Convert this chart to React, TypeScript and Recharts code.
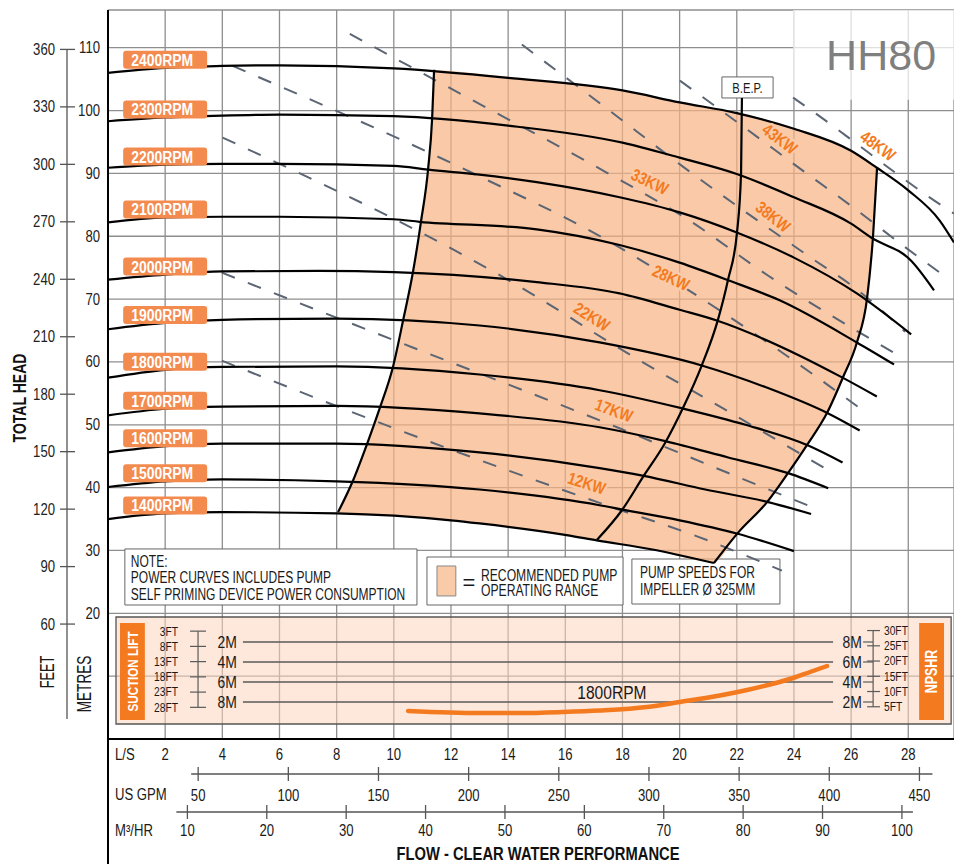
import React from 'react';
import {
  ComposedChart, XAxis, YAxis, CartesianGrid, Line, Area, Scatter,
  ReferenceArea, ReferenceLine,
} from 'recharts';

// ---------- fonts ----------
const SANS = "'Liberation Sans', Arial, Helvetica, sans-serif";

// ---------- axis ranges / conversions ----------
const FLOW_MAX = 29.6;          // L/S at right edge
const HEAD_MAX = 116;           // metres at top edge
const FT_PER_M = 1 / 0.3048;
const GPM_PER_LS = 15.8503;
const M3H_PER_LS = 3.6;
const GPM_MAX = FLOW_MAX * GPM_PER_LS;
const M3H_MAX = FLOW_MAX * M3H_PER_LS;
const FT_MAX = HEAD_MAX * FT_PER_M;
const NPSH_DOMAIN: [number, number] = [-1.7, 71.2];

// ---------- ticks ----------
const flowTicks = [2, 4, 6, 8, 10, 12, 14, 16, 18, 20, 22, 24, 26, 28];
const gpmTicks = [50, 100, 150, 200, 250, 300, 350, 400, 450];
const m3hTicks = [10, 20, 30, 40, 50, 60, 70, 80, 90, 100];
const headTicksM = [10, 20, 30, 40, 50, 60, 70, 80, 90, 100, 110];
const headTicksFt = [60, 90, 120, 150, 180, 210, 240, 270, 300, 330, 360];

// ---------- pump curves: [flow L/S, head m] ----------
const rpm2400 = [[0, 106.0], [2, 106.8], [4, 107.1], [6, 107.2], [10, 106.7], [14, 105.2], [18, 103.2], [20, 101.3], [22, 99.6], [24, 97.1], [26, 93.6], [26.9, 90.9], [28, 87.3], [29.1, 82.5], [29.6, 79.0]];
const rpm2300 = [[0, 98.3], [2, 98.9], [4, 99.2], [6, 99.35], [10, 99.1], [14, 97.6], [18, 94.9], [20, 92.5], [22, 89.9], [24, 86.2], [26, 82.0], [26.7, 79.8], [28.1, 76.1], [28.9, 71.4]];
const rpm2200 = [[0, 90.9], [2, 91.4], [4, 91.5], [6, 91.5], [10, 91.2], [11.2, 90.6], [13, 89.8], [15, 88.6], [17.9, 86.2], [20, 83.8], [22, 80.6], [24, 76.6], [26.2, 70.9], [28.1, 64.4]];
const rpm2100 = [[0, 82.2], [2, 83.0], [4, 83.1], [6, 83.1], [10, 82.7], [10.9, 82.3], [15, 81.1], [17.9, 78.6], [20, 75.8], [21.7, 73.0], [23.5, 69.8], [26.2, 63.1], [27.5, 59.6]];
const rpm2000 = [[0, 73.1], [2, 73.9], [4, 74.4], [7.4, 74.5], [10, 74.3], [15, 72.7], [17.9, 70.9], [20, 68.3], [21.3, 66.6], [24.2, 61.0], [25.7, 57.5], [26.9, 54.5]];
const rpm1900 = [[0, 65.2], [2, 66.2], [4, 66.7], [8, 66.9], [13, 65.8], [17.2, 63.1], [20.8, 59.4], [23, 56.0], [25.2, 51.8], [26.3, 49.1]];
const rpm1800 = [[0, 57.5], [2, 58.75], [4, 59.2], [8, 59.3], [13, 58.0], [17.2, 55.5], [20.1, 52.6], [22.3, 50.0], [24.5, 46.7], [25.7, 44.0]];
const rpm1700 = [[0, 51.5], [2, 52.55], [4, 52.9], [8, 53.0], [13, 51.8], [17.2, 49.6], [19.5, 47.4], [21.7, 44.8], [23.8, 42.3], [25.2, 39.9]];
const rpm1600 = [[0, 45.6], [2, 46.6], [4, 47.0], [8, 47.0], [13, 45.6], [17.2, 43.1], [18.7, 41.9], [20.9, 39.7], [23.1, 37.7], [24.6, 35.8]];
const rpm1500 = [[0, 40.1], [2, 41.0], [4, 41.3], [8, 41.0], [13, 39.7], [17.2, 37.2], [18, 36.5], [20, 34.8], [22, 32.7], [24, 29.9]];
const rpm1400 = [[0, 35.0], [2, 35.9], [4, 36.1], [8, 35.9], [12, 34.8], [13, 34.3], [16.1, 32.4], [17.1, 31.6], [19, 30.2], [21.2, 28.0]];
const rpmNames = ['2400RPM', '2300RPM', '2200RPM', '2100RPM', '2000RPM', '1900RPM', '1800RPM', '1700RPM', '1600RPM', '1500RPM', '1400RPM'];

// ---------- power curves (kW): [flow L/S, head m] ----------
const kw48 = [[23.97, 102.05], [25.26, 97.9], [26.14, 94.9], [27.82, 89.2], [28.76, 86.15], [29.6, 83.6]];
const kw43 = [[20.01, 104.75], [22.18, 97.6], [24.32, 90.4], [26.07, 84.6], [27.82, 78.5], [29.11, 74.2]];
const kw38 = [[14.48, 110.5], [17.46, 100.3], [20.08, 91.2], [24.49, 76.9], [26.24, 71.4], [27.89, 64.8]];
const kw33 = [[8.46, 112.2], [12.73, 101.7], [17.46, 90.1], [20.29, 82.65], [23.09, 73.75], [27.54, 61.35]];
const kw28 = [[4.36, 107.1], [12.73, 90.1], [17.49, 79.3], [20.71, 70.25], [22.88, 63.7], [26.56, 51.8]];
const kw22 = [[4.01, 95.7], [15.04, 70.25], [17.84, 62.3], [21.52, 52.6], [25.26, 42.6]];
const kw17 = [[3.98, 74.2], [10.66, 62.3], [17.81, 49.6], [21.66, 42.4], [24.74, 36.7]];
const kw12 = [[3.98, 60.2], [10.21, 49.1], [17.56, 37.0], [20.61, 32.25], [23.58, 26.8]];
const kwLabels = ['48KW', '43KW', '38KW', '33KW', '28KW', '22KW', '17KW', '12KW'];
const kwLabelFlow = [26.94, 23.51, 23.27, 18.96, 19.7, 16.93, 17.7, 16.75];
const kwLabelHead = [94.4, 95.5, 83.1, 88.7, 73.4, 67.2, 52.3, 40.7];
const kwLabelAngle = [36, 37, 38, 25, 25, 32, 20, 18];

// ---------- operating range limits ----------
const leftLimit = [[8.05, 36.1], [8.57, 41.1], [9.06, 46.9], [9.52, 52.8], [9.97, 59.2], [10.32, 66.5], [10.67, 74.3], [10.95, 82.3], [11.2, 90.7], [11.34, 98.7], [11.41, 106.5]];
const bepLine = [[17.11, 31.7], [17.98, 36.4], [18.72, 41.7], [19.49, 47.1], [20.12, 52.7], [20.78, 59.5], [21.34, 66.7], [21.69, 73.0], [22.01, 80.7], [22.15, 90.1], [22.18, 102.0]];
const rightLimit = [[21.2, 28.0], [22.04, 32.8], [23.06, 37.7], [23.79, 42.3], [24.46, 46.8], [25.16, 51.9], [25.72, 57.6], [26.21, 63.2], [26.56, 70.2], [26.77, 80.2], [26.91, 91.0]];
const rangeFlow = [8.05, 8.57, 9.06, 9.52, 9.97, 10.32, 10.67, 10.95, 11.2, 11.34, 11.41, 13.02, 15.01, 17.21, 18.96, 21.2, 22.04, 23.06, 23.79, 24.46, 25.16, 25.72, 26.21, 26.56, 26.77, 26.91];
const rangeLow = [35.96, 35.88, 35.81, 35.65, 35.49, 35.41, 35.33, 35.25, 35.17, 35.09, 35.09, 34.37, 33.18, 31.67, 30.24, 28.17, 32.78, 37.71, 42.33, 46.79, 51.88, 57.61, 63.18, 70.18, 80.2, 91.02];
const rangeHigh = [36.12, 41.06, 46.94, 52.83, 59.2, 66.52, 74.32, 82.27, 90.71, 98.66, 106.46, 105.82, 104.87, 103.75, 102.32, 100.41, 99.7, 98.5, 97.55, 96.59, 95.32, 94.21, 93.09, 92.14, 91.5, 91.02];

// ---------- NPSHR @1800RPM ----------
const npshFlow = [10.5, 13.02, 14.42, 15.92, 17.21, 18.86, 20.01, 21.41, 22.36, 23.16, 23.97, 24.56, 25.16];
const npshReq = [1.1, 0.9, 0.9, 1.0, 1.15, 1.5, 2.0, 2.65, 3.2, 3.75, 4.4, 5.0, 5.6];
const npshGridM = [2, 4, 6, 8];
const suctionLiftM = [2, 4, 6, 8];
const suctionLiftFt = [3, 8, 13, 18, 23, 28];
const npshrFt = [5, 10, 15, 20, 25, 30];

// ---------- layout ----------
const CHART_W = 954, CHART_H = 864, TOP = 10;
const LS_AXIS_H = 35, GPM_AXIS_H = 38, M3H_AXIS_H = 52;
const BOTTOM_H = LS_AXIS_H + GPM_AXIS_H + M3H_AXIS_H;
const PLOT_H = CHART_H - TOP - BOTTOM_H;
const PX_PER_FT = PLOT_H / FT_MAX;
const PEACH = '#f7b283';
const ORANGE = '#f47a20';
const DASH = '#5b6573';
const INK = '#1a1a1a';

const toXY = (pts: number[][]) => pts.map(([x, y]) => ({ x, y }));
const pumpCurves = [rpm2400, rpm2300, rpm2200, rpm2100, rpm2000, rpm1900, rpm1800, rpm1700, rpm1600, rpm1500, rpm1400];
const powerCurves = [kw48, kw43, kw38, kw33, kw28, kw22, kw17, kw12];
const rangeData = rangeFlow.map((x, i) => ({ x, range: [rangeLow[i], rangeHigh[i]] }));
const npshData = npshFlow.map((x, i) => ({ x, y: npshReq[i] }));
const kwLabelData = kwLabels.map((t, i) => ({ x: kwLabelFlow[i], y: kwLabelHead[i], text: t, angle: kwLabelAngle[i] }));
const gpmSpan = [{ x: 0, y: 0 }, { x: GPM_MAX, y: 0 }];
const m3hSpan = [{ x: 0, y: 0 }, { x: M3H_MAX, y: 0 }];

// ---------- condensed text helper (Arial metrics squeezed horizontally) ----------
type TProps = {
  x: number; y: number; sx?: number; rotate?: number; anchor?: 'start' | 'middle' | 'end';
  size: number; weight?: string | number; fill?: string; baseline?: string; halo?: string; children: React.ReactNode;
};
const T = ({ x, y, sx = 0.82, rotate = 0, anchor = 'start', size, weight = 'normal', fill = INK, baseline, halo, children }: TProps) => (
  <text x={0} y={0} transform={`translate(${x} ${y}) rotate(${rotate}) scale(${sx} 1)`} textAnchor={anchor}
    dominantBaseline={baseline as any} fontFamily={SANS} fontSize={size} fontWeight={weight} fill={fill}
    stroke={halo} strokeWidth={halo ? 5 : undefined} paintOrder={halo ? 'stroke' : undefined} strokeLinejoin="round">
    {children}
  </text>
);

// ---------- ticks renderers ----------
const MetreTick = (p: any) => {
  const v = p.payload.value;
  if (v < 20) return <g />;
  return <T x={p.x} y={p.y + 5.5} anchor="end" size={16} fill="#222">{v}</T>;
};
const FeetTick = (p: any) => {
  const v = p.payload.value;
  const ax = p.x + 12;
  const y = p.y;
  return (
    <g>
      {v < 360 && <line x1={ax} x2={ax} y1={y} y2={y - 30 * PX_PER_FT} stroke="#555" strokeWidth={1.3} />}
      {v === 60 && <line x1={ax} x2={ax} y1={y} y2={y + 95} stroke="#555" strokeWidth={1.3} />}
      <line x1={ax - 7} x2={ax + 8} y1={y} y2={y} stroke="#555" strokeWidth={1.3} />
      <T x={p.x} y={y + 5.5} anchor="end" size={16} fill="#222">{v}</T>
    </g>
  );
};
const LsTick = (p: any) => (
  <T x={p.x} y={p.y + 21} anchor="middle" size={16}>{p.payload.value}</T>
);
const scaleTick = (baseline: number) => (p: any) => (
  <g>
    <line x1={p.x} x2={p.x} y1={p.y - 7} y2={p.y + 7} stroke="#555" strokeWidth={1.3} />
    <T x={p.x} y={p.y + baseline} anchor="middle" size={16}>{p.payload.value}</T>
  </g>
);

// ---------- axis decorations ----------
const lsAxisDecor = (p: any) => {
  const vb = p.viewBox;
  return (
    <g>
      <line x1={vb.x} x2={vb.x} y1={vb.y} y2={vb.y + BOTTOM_H} stroke="#000" strokeWidth={2} />
      <T x={vb.x + 7} y={vb.y + 21} size={16}>L/S</T>
    </g>
  );
};
const gpmAxisDecor = (p: any) => {
  const vb = p.viewBox;
  const px = (v: number) => vb.x + (v / GPM_MAX) * vb.width;
  return (
    <g>
      <line x1={px(gpmTicks[0]) - 7} x2={px(gpmTicks[gpmTicks.length - 1]) + 13} y1={vb.y} y2={vb.y} stroke="#555" strokeWidth={1.3} />
      <T x={vb.x + 7} y={vb.y + 26} size={16}>US GPM</T>
    </g>
  );
};
const m3hAxisDecor = (p: any) => {
  const vb = p.viewBox;
  const px = (v: number) => vb.x + (v / M3H_MAX) * vb.width;
  return (
    <g>
      <line x1={px(m3hTicks[0]) - 11} x2={px(m3hTicks[m3hTicks.length - 1]) + 11} y1={vb.y} y2={vb.y} stroke="#555" strokeWidth={1.3} />
      <T x={vb.x + 7} y={vb.y + 24} size={16}>M³/HR</T>
      <T x={vb.x + 430} y={vb.y + 48} anchor="middle" size={18} weight="bold" fill="#111">FLOW - CLEAR WATER PERFORMANCE</T>
    </g>
  );
};
const feetAxisDecor = (p: any) => {
  const vb = p.viewBox;
  return (
    <g>
      <T x={vb.x + 19} y={vb.y + 388} rotate={-90} sx={0.78} anchor="middle" baseline="central" size={18} weight="bold" fill="#111">TOTAL HEAD</T>
      <T x={vb.x + 47} y={vb.y + 662} rotate={-90} sx={0.64} anchor="middle" baseline="central" size={20}>FEET</T>
    </g>
  );
};
const metreAxisDecor = (p: any) => {
  const vb = p.viewBox;
  return <T x={vb.x + 18} y={vb.y + 674} rotate={-90} sx={0.68} anchor="middle" baseline="central" size={20}>METRES</T>;
};

// ---------- annotation boxes ----------
const boxText = (lines: string[], dx: number, first: number, gap: number) => (p: any) => {
  const vb = p.viewBox;
  return (
    <g>
      {lines.map((t, i) => (
        <T key={i} x={vb.x + dx} y={vb.y + first + i * gap} sx={0.75} size={16}>{t}</T>
      ))}
    </g>
  );
};
const legendText = (p: any) => {
  const vb = p.viewBox;
  return (
    <g>
      <T x={vb.x + 42} y={vb.y + 33} sx={1} anchor="middle" size={22}>=</T>
      <T x={vb.x + 54} y={vb.y + 24} sx={0.76} size={16}>RECOMMENDED PUMP</T>
      <T x={vb.x + 54} y={vb.y + 39} sx={0.76} size={16}>OPERATING RANGE</T>
    </g>
  );
};
const bepText = (p: any) => {
  const vb = p.viewBox;
  return <T x={vb.x + vb.width / 2} y={vb.y + 16} anchor="middle" sx={0.8} size={14}>B.E.P.</T>;
};
const hhText = (p: any) => {
  const vb = p.viewBox;
  return <T x={vb.x + 88} y={vb.y + 60} anchor="middle" sx={1} size={43} fill="#7f7f7f">HH80</T>;
};
const verticalBoxText = (t: string, size: number, sx: number) => (p: any) => {
  const vb = p.viewBox;
  const cx = vb.x + vb.width / 2, cy = vb.y + vb.height / 2;
  return <T x={cx} y={cy} rotate={-90} sx={sx} anchor="middle" baseline="central" size={size} weight="bold" fill="#fff">{t}</T>;
};

// ---------- series labels ----------
const rpmLabel = (name: string) => (p: any) => {
  if (p.index !== 1) return null;
  const vb = p.viewBox || {};
  const x = Number.isFinite(p.x) ? p.x : vb.x;
  const y = (Number.isFinite(p.y) ? p.y : vb.y) - 8;
  return (
    <g>
      <rect x={x - 42} y={y - 9} width={84} height={18} rx={3} fill="#f38b4f" />
      <T x={x - 34} y={y + 6} size={17} weight="bold" fill="#fff">{name}</T>
    </g>
  );
};
const kwShape = (p: any) => {
  const d = p.payload;
  return (
    <T x={p.cx} y={p.cy} rotate={d.angle} anchor="middle" baseline="central" size={17} weight="bold" fill={ORANGE}
      halo={d.text === '48KW' ? '#ffffff' : '#f9cba9'}>{d.text}</T>
  );
};
const textShape = (anchor: 'start' | 'middle' | 'end', size: number) => (p: any) => (
  <T x={p.cx} y={p.cy} anchor={anchor} baseline="central" size={size}>{p.payload.text}</T>
);

// npsh panel text data
const suctionLabelData = suctionLiftM.map((m) => ({ x: 4.51, y: 10 - m, text: `${m}M` }));
const npshrLabelData = npshGridM.map((m) => ({ x: 26.38, y: m, text: `${m}M` }));
const suctionFtData = suctionLiftFt.map((f) => ({ x: 2.45, y: 10 - f / FT_PER_M, text: `${f}FT` }));
const npshrFtData = npshrFt.map((f) => ({ x: 27.15, y: f / FT_PER_M, text: `${f}FT` }));
const curveNameData = [{ x: 17.63, y: 3.0, text: '1800RPM' }];

export default function App() {
  return (
    <div style={{ position: 'absolute', left: 0, top: 0, width: CHART_W, height: CHART_H, background: '#fff' }}>
      <ComposedChart width={CHART_W} height={CHART_H} margin={{ top: TOP, right: 0, bottom: 0, left: 0 }}>
        <CartesianGrid stroke="#8e8e8e" strokeWidth={1.3} />
        <XAxis dataKey="x" type="number" domain={[0, FLOW_MAX]} ticks={flowTicks} interval={0} allowDataOverflow
          height={LS_AXIS_H} axisLine={{ stroke: '#000', strokeWidth: 2 }} tickLine={false} tickSize={0} tickMargin={0}
          tick={LsTick} label={lsAxisDecor} />
        <XAxis xAxisId="gpm" dataKey="x" type="number" domain={[0, GPM_MAX]} ticks={gpmTicks} interval={0} allowDataOverflow
          height={GPM_AXIS_H} axisLine={false} tickLine={false} tickSize={0} tickMargin={0}
          tick={scaleTick(27)} label={gpmAxisDecor} />
        <XAxis xAxisId="m3h" dataKey="x" type="number" domain={[0, M3H_MAX]} ticks={m3hTicks} interval={0} allowDataOverflow
          height={M3H_AXIS_H} axisLine={false} tickLine={false} tickSize={0} tickMargin={0}
          tick={scaleTick(24)} label={m3hAxisDecor} />
        <YAxis type="number" domain={[0, HEAD_MAX]} ticks={headTicksM} interval={0} allowDataOverflow width={41}
          axisLine={{ stroke: '#000', strokeWidth: 2 }} tickLine={false} tickSize={6} tickMargin={2}
          tick={MetreTick} label={metreAxisDecor} />
        <YAxis yAxisId="ft" type="number" domain={[0, FT_MAX]} ticks={headTicksFt} interval={0} allowDataOverflow width={67}
          axisLine={false} tickLine={false} tickSize={7} tickMargin={5} tick={FeetTick} label={feetAxisDecor} />
        <YAxis yAxisId="npsh" type="number" domain={NPSH_DOMAIN} allowDataOverflow hide />

        {/* invisible spans so the secondary flow scales are populated */}
        <Line xAxisId="gpm" data={gpmSpan} dataKey="y" stroke="none" dot={false} isAnimationActive={false} />
        <Line xAxisId="m3h" data={m3hSpan} dataKey="y" stroke="none" dot={false} isAnimationActive={false} />

        {/* backgrounds & annotation boxes */}
        <ReferenceArea x1={23.97} x2={FLOW_MAX} y1={101.7} y2={HEAD_MAX} fill="#fff" fillOpacity={0.72} stroke="none" label={hhText} />
        <ReferenceArea x1={0.28} x2={29.5} y1={2.39} y2={19.41} fill="#fbd5bd" fillOpacity={0.55} stroke="#555" strokeWidth={1.3} />
        <ReferenceArea x1={0.42} x2={1.29} y1={3.02} y2={18.46} fill={ORANGE} fillOpacity={1} stroke="none" label={verticalBoxText('SUCTION LIFT', 15.5, 0.75)} />
        <ReferenceArea x1={28.38} x2={29.25} y1={3.02} y2={18.46} fill={ORANGE} fillOpacity={1} stroke="none" label={verticalBoxText('NPSHR', 16, 0.78)} />
        <ReferenceArea x1={0.59} x2={10.81} y1={21.32} y2={30.24} fill="#fff" fillOpacity={1} stroke="#666" strokeWidth={1}
          label={boxText(['NOTE:', 'POWER CURVES INCLUDES PUMP', 'SELF PRIMING DEVICE POWER CONSUMPTION'], 6, 18, 16.5)} />
        <ReferenceArea x1={11.16} x2={18.02} y1={21.32} y2={28.96} fill="#fff" fillOpacity={1} stroke="#666" strokeWidth={1} label={legendText} />
        <ReferenceArea x1={11.51} x2={12.17} y1={22.76} y2={27.53} fill="#f9cba9" fillOpacity={1} stroke="#888" strokeWidth={1} />
        <ReferenceArea x1={18.33} x2={23.51} y1={21.48} y2={28.64} fill="#fff" fillOpacity={1} stroke="#666" strokeWidth={1}
          label={boxText(['PUMP SPEEDS FOR', 'IMPELLER Ø 325MM'], 8, 19, 17)} />
        <ReferenceArea x1={21.48} x2={23.27} y1={102.0} y2={105.35} fill="#fff" fillOpacity={1} stroke="#666" strokeWidth={1} label={bepText} />

        {/* recommended operating range */}
        <Area data={rangeData} dataKey="range" type="monotone" fill={PEACH} fillOpacity={0.7} stroke="none" isAnimationActive={false} />

        {/* power curves */}
        {powerCurves.map((pts, i) => (
          <Line key={`kw${i}`} data={toXY(pts)} dataKey="y" type="monotone" stroke={DASH} strokeWidth={2}
            strokeDasharray="14 14" dot={false} isAnimationActive={false} />
        ))}

        {/* pump speed curves */}
        {pumpCurves.map((pts, i) => (
          <Line key={`rpm${i}`} data={toXY(pts)} dataKey="y" type="monotone" stroke="#000" strokeWidth={2.2}
            dot={false} isAnimationActive={false} label={rpmLabel(rpmNames[i])} />
        ))}

        {/* limits */}
        <Line data={toXY(leftLimit)} dataKey="y" type="monotone" stroke="#000" strokeWidth={2.2} dot={false} isAnimationActive={false} />
        <Line data={toXY(bepLine)} dataKey="y" type="monotone" stroke="#000" strokeWidth={2.2} dot={false} isAnimationActive={false} />
        <Line data={toXY(rightLimit)} dataKey="y" type="monotone" stroke="#000" strokeWidth={2.2} dot={false} isAnimationActive={false} />

        <Scatter data={kwLabelData} dataKey="y" shape={kwShape} isAnimationActive={false} />

        {/* NPSH panel */}
        {npshGridM.map((m) => (
          <ReferenceLine key={`g${m}`} yAxisId="npsh" segment={[{ x: 4.72, y: m }, { x: 25.37, y: m }]} stroke="#5a5a5a" strokeWidth={1.3} />
        ))}
        {npshGridM.map((m) => (
          <ReferenceLine key={`c${m}`} yAxisId="npsh" segment={[{ x: 26.42, y: m }, { x: 26.77, y: m }]} stroke="#5a5a5a" strokeWidth={1.2} />
        ))}
        <ReferenceLine yAxisId="npsh" segment={[{ x: 3.15, y: 10 - suctionLiftFt[0] / FT_PER_M }, { x: 3.15, y: 10 - suctionLiftFt[5] / FT_PER_M }]} stroke="#5a5a5a" strokeWidth={1.2} />
        {suctionLiftFt.map((f) => (
          <ReferenceLine key={`sf${f}`} yAxisId="npsh" segment={[{ x: 2.87, y: 10 - f / FT_PER_M }, { x: 3.43, y: 10 - f / FT_PER_M }]} stroke="#5a5a5a" strokeWidth={1.2} />
        ))}
        <ReferenceLine yAxisId="npsh" segment={[{ x: 26.77, y: npshrFt[0] / FT_PER_M }, { x: 26.77, y: npshrFt[5] / FT_PER_M }]} stroke="#5a5a5a" strokeWidth={1.2} />
        {npshrFt.map((f) => (
          <ReferenceLine key={`nf${f}`} yAxisId="npsh" segment={[{ x: 26.56, y: f / FT_PER_M }, { x: 27.01, y: f / FT_PER_M }]} stroke="#5a5a5a" strokeWidth={1.2} />
        ))}
        <Line yAxisId="npsh" data={npshData} dataKey="y" type="monotone" stroke={ORANGE} strokeWidth={4.5} strokeLinecap="round" dot={false} isAnimationActive={false} />
        <Scatter yAxisId="npsh" data={suctionLabelData} dataKey="y" shape={textShape('end', 17)} isAnimationActive={false} />
        <Scatter yAxisId="npsh" data={npshrLabelData} dataKey="y" shape={textShape('end', 17)} isAnimationActive={false} />
        <Scatter yAxisId="npsh" data={suctionFtData} dataKey="y" shape={textShape('end', 12.5)} isAnimationActive={false} />
        <Scatter yAxisId="npsh" data={npshrFtData} dataKey="y" shape={textShape('start', 12.5)} isAnimationActive={false} />
        <Scatter yAxisId="npsh" data={curveNameData} dataKey="y" shape={textShape('middle', 19)} isAnimationActive={false} />
      </ComposedChart>
    </div>
  );
}
